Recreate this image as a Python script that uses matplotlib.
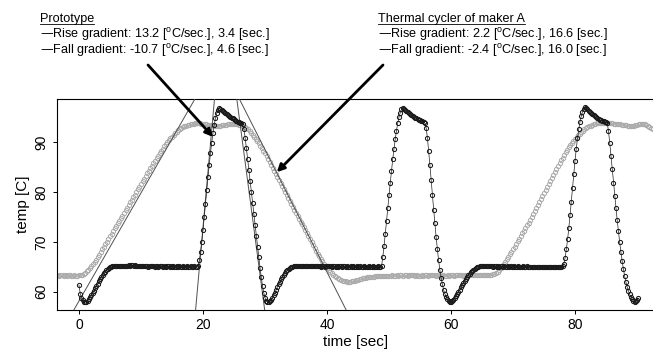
import numpy as np
import matplotlib
matplotlib.use("Agg")
import matplotlib.pyplot as plt
from matplotlib.lines import Line2D

plt.rcParams['font.family'] = ['Liberation Sans', 'DejaVu Sans']

# ---- prototype (black), sampled every 0.2 s ----
P_STEP = 0.2
p_drop0 = [61.3, 59.6, 58.8, 58.3, 58.0, 57.9]
p_settle1 = [58.0, 58.2, 58.5, 58.9, 59.3, 59.7, 60.2, 60.7, 61.2, 61.6,
             62.1, 62.5, 62.9, 63.3, 63.7, 64.0, 64.3, 64.5, 64.7, 64.9,
             65.0, 65.1]
p_hold1 = [65.2, 65.1, 65.2, 65.1, 65.1, 65.2, 65.1, 65.2, 65.2, 65.1,
           65.2, 65.2, 65.3, 65.2, 65.3, 65.3, 65.2, 65.3, 65.2, 65.2,
           65.1, 65.2, 65.1, 65.2, 65.1, 65.1, 65.2, 65.1, 65.0, 65.1,
           65.1, 65.2, 65.1, 65.0, 65.1, 65.1, 65.0, 65.1, 65.2, 65.1,
           65.0, 65.1, 65.0, 65.1, 65.1, 65.0, 65.1, 65.0, 65.1, 65.0,
           65.0, 65.1, 65.0, 65.1, 65.0, 65.0, 65.1, 65.0, 65.0, 65.1,
           65.0, 65.0, 65.1, 65.0, 65.0, 65.1, 65.0, 65.0]
p_rise1 = [65.2, 66.3, 67.9, 70.0, 72.4, 75.0, 77.7, 80.4, 83.0, 85.5,
           87.8, 89.9, 91.8, 93.4, 94.8, 95.8, 96.5, 96.8]
p_top1 = [96.7, 96.5, 96.3, 96.1, 95.9, 95.7, 95.5, 95.3, 95.1, 94.9,
          94.8, 94.6, 94.4, 94.3, 94.1, 94.0, 93.9, 93.8, 93.6]
p_fall1 = [92.6, 90.9, 88.8, 86.6, 84.4, 82.2, 80.0, 77.8, 75.6, 73.4,
           71.2, 69.0, 66.9, 64.8, 62.9, 61.2, 59.8, 58.8, 58.2, 57.9,
           57.9]
p_settle2 = [58.1, 58.4, 58.8, 59.3, 59.8, 60.4, 61.0, 61.5, 62.0, 62.5,
             63.0, 63.4, 63.8, 64.1, 64.4, 64.6, 64.8, 64.9, 65.0, 65.1]
p_hold2 = [65.1, 65.2, 65.2, 65.1, 65.2, 65.2, 65.1, 65.2, 65.1, 65.2,
           65.2, 65.1, 65.1, 65.2, 65.1, 65.2, 65.1, 65.1, 65.2, 65.1,
           65.1, 65.0, 65.1, 65.1, 65.0, 65.1, 65.1, 65.2, 65.1, 65.1,
           65.0, 65.1, 65.1, 65.0, 65.1, 65.0, 65.1, 65.1, 65.0, 65.1,
           65.1, 65.0, 65.1, 65.0, 65.0, 65.1, 65.0, 65.1, 65.0, 65.0,
           65.1, 65.0, 65.0, 65.1, 65.0, 65.0, 65.1, 65.0, 65.0, 65.0,
           65.1, 65.0, 65.0, 65.1, 65.0, 65.0, 65.0, 65.1, 65.0, 65.0]
p_rise2 = [65.2, 67.0, 69.2, 71.6, 74.2, 76.8, 79.4, 81.9, 84.3, 86.6,
           88.7, 90.6, 92.3, 93.8, 95.0, 95.9, 96.6, 96.9]
p_top2 = [96.7, 96.5, 96.3, 96.1, 95.9, 95.7, 95.5, 95.3, 95.1, 94.9,
          94.8, 94.6, 94.5, 94.4, 94.3, 94.2, 94.1, 93.9]
p_fall2 = [92.8, 90.8, 88.2, 85.4, 82.4, 79.4, 76.5, 73.7, 71.0, 68.5,
           66.3, 64.4, 62.8, 61.5, 60.4, 59.6, 59.0, 58.5, 58.2, 58.0,
           58.0]
p_settle3 = [58.1, 58.3, 58.7, 59.1, 59.5, 60.0, 60.4, 60.9, 61.3, 61.7,
             62.1, 62.5, 62.9, 63.3, 63.6, 63.9, 64.2, 64.4, 64.6, 64.8,
             64.9, 65.0, 65.1]
p_hold3 = [65.1, 65.1, 65.2, 65.1, 65.2, 65.1, 65.1, 65.2, 65.1, 65.1,
           65.0, 65.1, 65.1, 65.0, 65.1, 65.0, 65.1, 65.1, 65.0, 65.1,
           65.0, 65.0, 65.1, 65.0, 65.1, 65.0, 65.0, 65.1, 65.0, 65.0,
           65.1, 65.0, 65.0, 65.0, 65.1, 65.0, 65.0, 65.1, 65.0, 65.0,
           64.9, 65.0, 65.0, 64.9, 65.0, 65.0, 64.9, 65.0, 65.0, 64.9,
           65.0, 64.9, 65.0, 65.0, 64.9, 65.0, 64.9, 65.0, 65.0, 64.9,
           65.0, 65.0, 64.9, 65.0, 65.0, 65.0]
p_rise3 = [65.1, 65.6, 66.8, 68.5, 70.5, 72.8, 75.4, 78.1, 80.9, 83.7,
           86.3, 88.7, 90.8, 92.6, 94.1, 95.2, 96.1, 96.7, 97.1]
p_top3 = [96.9, 96.6, 96.3, 96.0, 95.8, 95.6, 95.4, 95.2, 95.0, 94.8,
          94.7, 94.5, 94.4, 94.3, 94.2, 94.1, 94.0]
p_fall3 = [93.9, 92.2, 89.9, 87.3, 84.6, 81.9, 79.3, 76.8, 74.4, 72.1,
           70.0, 68.0, 66.2, 64.6, 63.2, 62.0, 61.0, 60.2, 59.5, 59.0,
           58.5, 58.1, 57.9, 58.1, 58.4, 58.7]

proto_segments = [(0.0, p_drop0), (1.2, p_settle1), (5.6, p_hold1),
                  (19.2, p_rise1), (22.8, p_top1), (26.6, p_fall1),
                  (30.8, p_settle2), (34.8, p_hold2), (48.8, p_rise2),
                  (52.4, p_top2), (56.0, p_fall2), (60.2, p_settle3),
                  (64.8, p_hold3), (78.0, p_rise3), (81.8, p_top3),
                  (85.2, p_fall3)]

# ---- thermal cycler of maker A (grey), sampled every 0.25 s ----
G_STEP = 0.25
g_base0 = [63.3, 63.2, 63.3, 63.3, 63.2, 63.3, 63.2, 63.3, 63.3, 63.2,
           63.2, 63.3, 63.2, 63.2, 63.3, 63.3]
g_rise1 = [63.4, 63.6, 63.8, 64.1, 64.4, 64.8, 65.2, 65.6, 66.0, 66.4,
           66.9, 67.4, 67.9, 68.5, 69.0, 69.5, 70.0, 70.6, 71.1, 71.6,
           72.2, 72.7, 73.2, 73.7, 74.3, 74.8, 75.3, 75.9, 76.4, 76.9,
           77.4, 78.0, 78.5, 79.0, 79.5, 80.1, 80.6, 81.1, 81.7, 82.2,
           82.7, 83.2, 83.8, 84.3, 84.8, 85.3, 85.8, 86.3, 86.8, 87.3,
           87.8, 88.3, 88.7, 89.2, 89.6, 90.0, 90.4, 90.8, 91.1, 91.5,
           91.8, 92.1, 92.4, 92.6, 92.8, 93.0, 93.2, 93.3, 93.4, 93.5,
           93.6, 93.7, 93.7, 93.8, 93.8]
g_top1 = [93.8, 93.8, 93.7, 93.7, 93.6, 93.6, 93.5, 93.5, 93.4, 93.4,
          93.4, 93.3, 93.3, 93.3, 93.3, 93.4, 93.4, 93.5, 93.5, 93.6,
          93.6, 93.7, 93.7, 93.7, 93.6, 93.6, 93.5, 93.5, 93.4]
g_fall1 = [93.3, 93.1, 92.9, 92.6, 92.3, 91.9, 91.5, 91.1, 90.7, 90.3,
           89.8, 89.3, 88.8, 88.3, 87.8, 87.3, 86.7, 86.1, 85.5, 84.9,
           84.3, 83.7, 83.1, 82.5, 81.9, 81.3, 80.7, 80.1, 79.5, 78.9,
           78.3, 77.7, 77.1, 76.5, 75.9, 75.3, 74.7, 74.1, 73.5, 72.9,
           72.3, 71.7, 71.1, 70.5, 69.9, 69.3, 68.7, 68.2, 67.6, 67.1,
           66.6, 66.1, 65.6, 65.2, 64.8, 64.4, 64.0, 63.7, 63.4, 63.1,
           62.9, 62.7, 62.5, 62.4, 62.2, 62.1, 62.1, 62.0, 62.0, 62.0,
           62.1]
g_base1 = [62.1, 62.2, 62.3, 62.4, 62.5, 62.6, 62.7, 62.8, 62.8, 62.9,
           62.9, 63.0, 63.0, 63.0, 63.1, 63.1, 63.1, 63.1, 63.2, 63.1,
           63.2, 63.2, 63.1, 63.2, 63.2, 63.3, 63.2, 63.2, 63.3, 63.2,
           63.3, 63.3, 63.2, 63.3, 63.3, 63.2, 63.3, 63.4, 63.3, 63.3,
           63.2, 63.3, 63.2, 63.2, 63.3, 63.2, 63.3, 63.3, 63.2, 63.3,
           63.4, 63.3, 63.3, 63.2, 63.3, 63.3, 63.2, 63.2, 63.3, 63.2,
           63.2, 63.3, 63.2, 63.3, 63.3, 63.2, 63.3, 63.3, 63.4, 63.3,
           63.3, 63.2, 63.3, 63.3, 63.4, 63.3, 63.3, 63.4, 63.3, 63.4,
           63.3, 63.4, 63.4, 63.3, 63.4, 63.4, 63.3, 63.4, 63.4, 63.4]
g_rise2 = [63.5, 63.6, 63.8, 64.0, 64.3, 64.7, 65.1, 65.5, 66.0, 66.5,
           67.0, 67.5, 68.0, 68.5, 69.0, 69.5, 70.1, 70.6, 71.1, 71.7,
           72.2, 72.8, 73.3, 73.9, 74.4, 75.0, 75.6, 76.2, 76.8, 77.4,
           78.0, 78.6, 79.2, 79.8, 80.4, 81.0, 81.6, 82.2, 82.8, 83.4,
           84.0, 84.6, 85.2, 85.8, 86.4, 86.9, 87.5, 88.0, 88.5, 89.0,
           89.5, 89.9, 90.3, 90.7, 91.1, 91.4, 91.7, 92.0, 92.3, 92.6,
           92.8, 93.0, 93.2, 93.3, 93.5, 93.6, 93.7, 93.8, 93.8, 93.9]
g_top2 = [93.9, 93.9, 93.9, 93.9, 93.9, 93.8, 93.8, 93.8, 93.7, 93.7,
          93.7, 93.6, 93.6, 93.5, 93.5, 93.4, 93.4, 93.3, 93.3, 93.3,
          93.3, 93.3, 93.4, 93.5, 93.6, 93.7, 93.7, 93.7, 93.6, 93.4,
          93.2, 93.0, 92.8, 92.6]

maker_segments = [(-3.5, g_base0), (0.5, g_rise1), (19.25, g_top1),
                  (26.5, g_fall1), (44.25, g_base1), (66.75, g_rise2),
                  (84.25, g_top2)]

# gradient lines: point on the line (time, temp) and slope [C/sec]
grad_points = [(-0.85, 56.3), (18.8, 56.3), (29.95, 56.3), (43.1, 56.3)]
grad_slopes = [2.17, 13.9, -9.42, -2.46]

# arrow targets (time, temp) and label texts
arrow_targets = [(21.6, 91.1), (31.9, 84.0)]
proto_lines = ['Prototype',
               '\u2014Rise gradient: 13.2 [$^\\mathregular{o}$C/sec.], 3.4 [sec.]',
               '\u2014Fall gradient: -10.7 [$^\\mathregular{o}$C/sec.], 4.6 [sec.]']
maker_lines = ['Thermal cycler of maker A',
               '\u2014Rise gradient: 2.2 [$^\\mathregular{o}$C/sec.], 16.6 [sec.]',
               '\u2014Fall gradient: -2.4 [$^\\mathregular{o}$C/sec.], 16.0 [sec.]']


def build(segments, step):
    t, y = [], []
    for start, vals in segments:
        t.extend(start + step * np.arange(len(vals)))
        y.extend(vals)
    return np.array(t), np.array(y)


pt, py = build(proto_segments, P_STEP)
gt, gy = build(maker_segments, G_STEP)

W, H = 653, 350
fig = plt.figure(figsize=(W / 100, H / 100), dpi=100)
ax = fig.add_axes([57 / W, 1 - 310 / H, 598 / W, 211 / H])

ax.plot(gt, gy, linestyle='none', marker='o', ms=3.1, mew=0.7,
        mfc='none', mec='#aaaaaa', zorder=2)
for (x0, y0), s in zip(grad_points, grad_slopes):
    ax.axline((x0, y0), slope=s, color='#505050', lw=0.7, zorder=3)
ax.plot(pt, py, color='#222222', lw=0.5, marker='o', ms=3.0, mew=0.75,
        mfc='none', mec='#1a1a1a', zorder=4)

ax.set_xlim(-3.55, 92.9)
ax.set_ylim(56.33, 98.7)
ax.set_xticks([0, 20, 40, 60, 80])
ax.set_yticks([60, 70, 80, 90])
ax.tick_params(direction='out', length=3, width=0.7, labelsize=10, pad=3)
ax.tick_params(axis='y', labelrotation=90, pad=3.5)
for lab in ax.get_yticklabels():
    lab.set_va('center')
ax.spines['right'].set_visible(False)
for s in ['left', 'bottom', 'top']:
    ax.spines[s].set_linewidth(0.8)
ax.set_xlabel('time [sec]', fontsize=11, labelpad=2)
ax.set_ylabel('temp [C]', fontsize=11, labelpad=3)


def fx(px):
    return px / W


def fy(px):
    return 1 - px / H


heads = []
for x0, lines in [(40, proto_lines), (378, maker_lines)]:
    for i, s in enumerate(lines):
        t = fig.text(fx(x0), fy(21.7 + 16.2 * i), s, fontsize=9.1,
                     va='baseline', ha='left')
        if i == 0:
            heads.append(t)

fig.canvas.draw()
r = fig.canvas.get_renderer()
inv = fig.transFigure.inverted()
for t in heads:
    bb = t.get_window_extent(r)
    (a, _), (b, _) = inv.transform([(bb.x0, 0), (bb.x1, 0)])
    fig.add_artist(Line2D([a, b], [fy(24.4), fy(24.4)], lw=0.6, color='black'))

for (tx, ty), (sx, sy) in zip(arrow_targets, [(148, 65), (383, 65)]):
    ax.annotate('', xy=(tx, ty), xycoords='data',
                xytext=(fx(sx), fy(sy)), textcoords='figure fraction',
                arrowprops=dict(arrowstyle='-|>', color='black', lw=2.0,
                                mutation_scale=11, shrinkA=0, shrinkB=0),
                annotation_clip=False, zorder=6)

fig.savefig('out.png', dpi=100)
